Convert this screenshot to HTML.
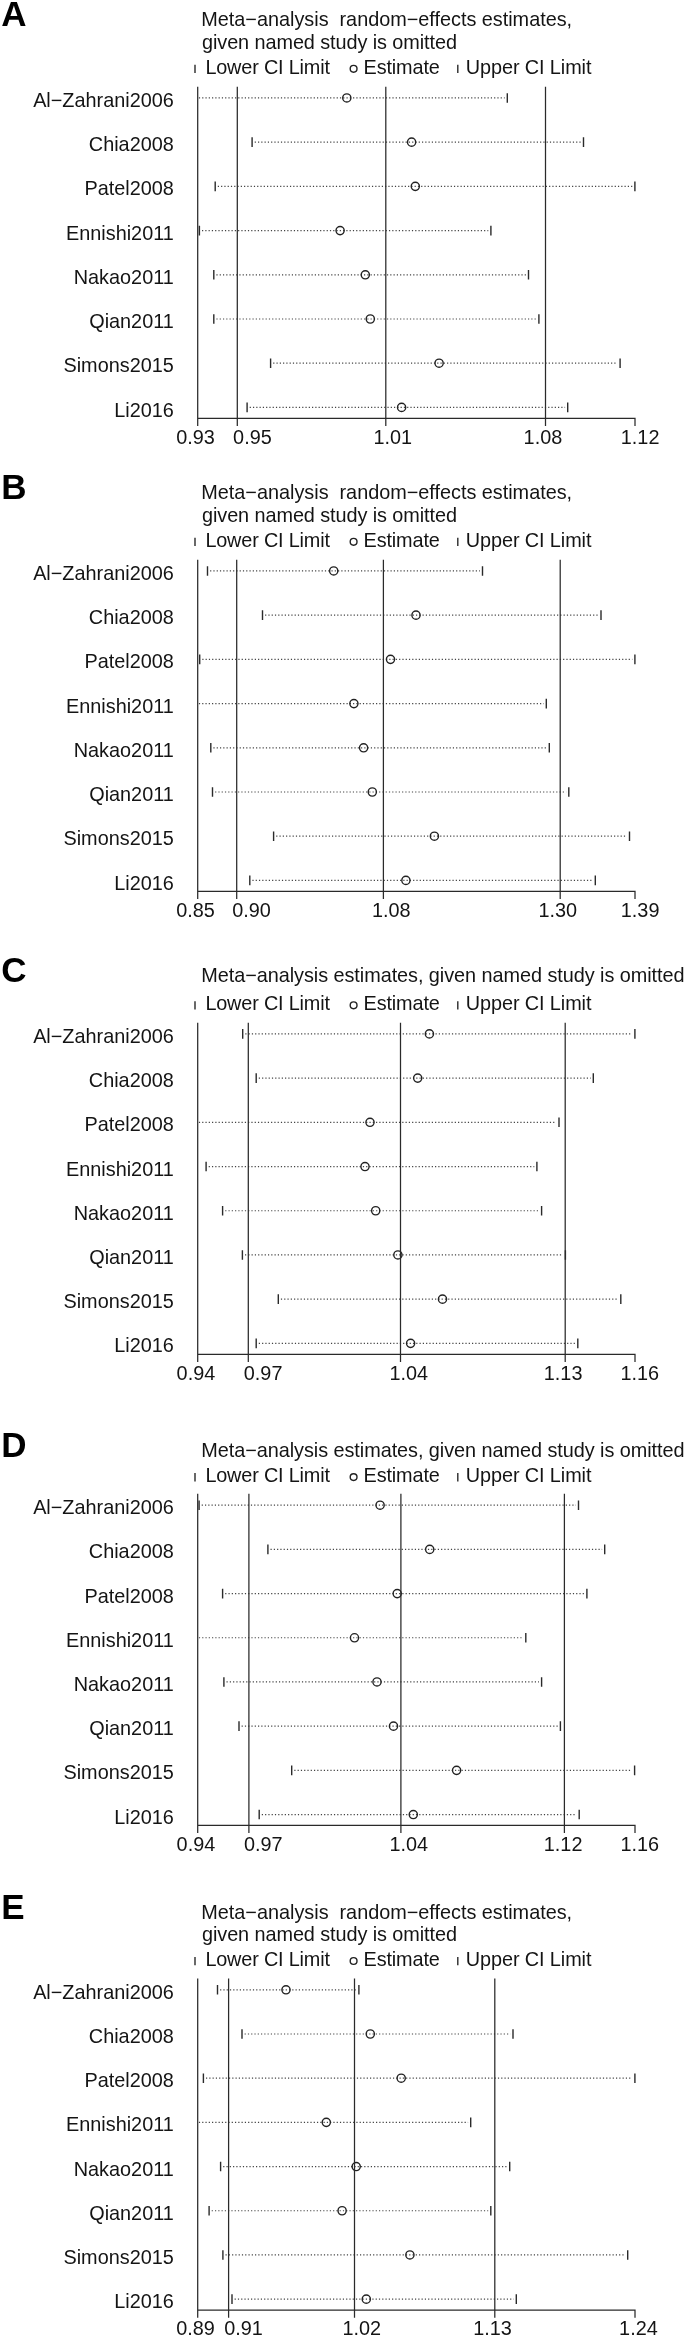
<!DOCTYPE html>
<html><head><meta charset="utf-8"><title>Sensitivity analysis</title>
<style>
html,body{margin:0;padding:0;background:#fff;}
svg{display:block;filter:grayscale(1);}
text{font-family:"Liberation Sans",sans-serif;font-size:19.85px;fill:#141414;}
.b{font-weight:bold;font-size:35px;fill:#000;}
.l{stroke:#2a2a2a;stroke-width:1.25;fill:none;}
.c{stroke:#2a2a2a;stroke-width:1.4;fill:none;}
.d{stroke:#444;stroke-width:1.2;stroke-dasharray:1.2 2.08;fill:none;}
.e{stroke:#222;stroke-width:1.4;fill:none;}
</style></head>
<body>
<svg width="685" height="2337" viewBox="0 0 685 2337">
<rect width="685" height="2337" fill="#fff"/>
<!-- panel A -->
<g>
<text class="b" x="1.2" y="26.3">A</text>
<text x="201.3" y="26.3" textLength="370.8" lengthAdjust="spacing">Meta−analysis  random−effects estimates,</text>
<text x="202" y="49.1" textLength="255" lengthAdjust="spacing">given named study is omitted</text>
<path class="c" d="M195 64.7 V73.1 M457.8 64.7 V73.1"/>
<circle class="e" cx="353.6" cy="68.8" r="3.4"/>
<text x="205.4" y="73.6" textLength="124.5" lengthAdjust="spacing">Lower CI Limit</text>
<text x="363.6" y="73.6" textLength="76.2" lengthAdjust="spacing">Estimate</text>
<text x="465.8" y="73.6" textLength="125.6" lengthAdjust="spacing">Upper CI Limit</text>
<path class="d" d="M198.9 97.95 H504.7"/>
<path class="c" d="M507.3 93.15 V102.75"/>
<circle class="e" cx="346.8" cy="97.95" r="4.1"/>
<text x="173.8" y="107.05" text-anchor="end">Al−Zahrani2006</text>
<path class="d" d="M254.7 142.16 H580.9"/>
<path class="c" d="M252.1 137.36 V146.96 M583.5 137.36 V146.96"/>
<circle class="e" cx="411.6" cy="142.16" r="4.1"/>
<text x="173.8" y="151.26" text-anchor="end">Chia2008</text>
<path class="d" d="M217.8 186.37 H632.3"/>
<path class="c" d="M215.2 181.57 V191.17 M634.9 181.57 V191.17"/>
<circle class="e" cx="415.3" cy="186.37" r="4.1"/>
<text x="173.8" y="195.47" text-anchor="end">Patel2008</text>
<path class="d" d="M202 230.58 H488.3"/>
<path class="c" d="M199.4 225.78 V235.38 M490.9 225.78 V235.38"/>
<circle class="e" cx="340.1" cy="230.58" r="4.1"/>
<text x="173.8" y="239.68" text-anchor="end">Ennishi2011</text>
<path class="d" d="M216.4 274.79 H525.9"/>
<path class="c" d="M213.8 269.99 V279.59 M528.5 269.99 V279.59"/>
<circle class="e" cx="365.3" cy="274.79" r="4.1"/>
<text x="173.8" y="283.89" text-anchor="end">Nakao2011</text>
<path class="d" d="M216.4 319 H536.3"/>
<path class="c" d="M213.8 314.2 V323.8 M538.9 314.2 V323.8"/>
<circle class="e" cx="370.3" cy="319" r="4.1"/>
<text x="173.8" y="328.1" text-anchor="end">Qian2011</text>
<path class="d" d="M273.2 363.21 H617.5"/>
<path class="c" d="M270.6 358.41 V368.01 M620.1 358.41 V368.01"/>
<circle class="e" cx="439.1" cy="363.21" r="4.1"/>
<text x="173.8" y="372.31" text-anchor="end">Simons2015</text>
<path class="d" d="M249.7 407.42 H565.1"/>
<path class="c" d="M247.1 402.62 V412.22 M567.7 402.62 V412.22"/>
<circle class="e" cx="401.6" cy="407.42" r="4.1"/>
<text x="173.8" y="416.52" text-anchor="end">Li2016</text>
<path class="l" d="M197.7 86.7 V425.9 M237.3 86.7 V425.9 M385.8 86.7 V425.9 M545.5 86.7 V425.9 M197.1 418.3 H635 M635 417.7 V425.9"/>
<text x="176.2" y="443.5">0.93</text>
<text x="233.1" y="443.5">0.95</text>
<text x="373.4" y="443.5">1.01</text>
<text x="523.6" y="443.5">1.08</text>
<text x="620.8" y="443.5">1.12</text>
</g>
<!-- panel B -->
<g>
<text class="b" x="1.2" y="499.3">B</text>
<text x="201.3" y="499.3" textLength="370.8" lengthAdjust="spacing">Meta−analysis  random−effects estimates,</text>
<text x="202" y="522.1" textLength="255" lengthAdjust="spacing">given named study is omitted</text>
<path class="c" d="M195 537.7 V546.1 M457.8 537.7 V546.1"/>
<circle class="e" cx="353.6" cy="541.8" r="3.4"/>
<text x="205.4" y="546.6" textLength="124.5" lengthAdjust="spacing">Lower CI Limit</text>
<text x="363.6" y="546.6" textLength="76.2" lengthAdjust="spacing">Estimate</text>
<text x="465.8" y="546.6" textLength="125.6" lengthAdjust="spacing">Upper CI Limit</text>
<path class="d" d="M210.1 570.95 H479.9"/>
<path class="c" d="M207.5 566.15 V575.75 M482.5 566.15 V575.75"/>
<circle class="e" cx="333.7" cy="570.95" r="4.1"/>
<text x="173.8" y="580.05" text-anchor="end">Al−Zahrani2006</text>
<path class="d" d="M265.1 615.16 H598.4"/>
<path class="c" d="M262.5 610.36 V619.96 M601 610.36 V619.96"/>
<circle class="e" cx="416" cy="615.16" r="4.1"/>
<text x="173.8" y="624.26" text-anchor="end">Chia2008</text>
<path class="d" d="M202.3 659.37 H632.3"/>
<path class="c" d="M199.7 654.57 V664.17 M634.9 654.57 V664.17"/>
<circle class="e" cx="390.5" cy="659.37" r="4.1"/>
<text x="173.8" y="668.47" text-anchor="end">Patel2008</text>
<path class="d" d="M198.9 703.58 H543.7"/>
<path class="c" d="M546.3 698.78 V708.38"/>
<circle class="e" cx="353.9" cy="703.58" r="4.1"/>
<text x="173.8" y="712.68" text-anchor="end">Ennishi2011</text>
<path class="d" d="M213.4 747.79 H546.7"/>
<path class="c" d="M210.8 742.99 V752.59 M549.3 742.99 V752.59"/>
<circle class="e" cx="363.6" cy="747.79" r="4.1"/>
<text x="173.8" y="756.89" text-anchor="end">Nakao2011</text>
<path class="d" d="M215.1 792 H566.2"/>
<path class="c" d="M212.5 787.2 V796.8 M568.8 787.2 V796.8"/>
<circle class="e" cx="372.3" cy="792" r="4.1"/>
<text x="173.8" y="801.1" text-anchor="end">Qian2011</text>
<path class="d" d="M276.2 836.21 H626.9"/>
<path class="c" d="M273.6 831.41 V841.01 M629.5 831.41 V841.01"/>
<circle class="e" cx="434.4" cy="836.21" r="4.1"/>
<text x="173.8" y="845.31" text-anchor="end">Simons2015</text>
<path class="d" d="M252.4 880.42 H592.7"/>
<path class="c" d="M249.8 875.62 V885.22 M595.3 875.62 V885.22"/>
<circle class="e" cx="405.9" cy="880.42" r="4.1"/>
<text x="173.8" y="889.52" text-anchor="end">Li2016</text>
<path class="l" d="M197.7 559.7 V898.9 M236.7 559.7 V898.9 M383.4 559.7 V898.9 M560.2 559.7 V898.9 M197.1 891.3 H635 M635 890.7 V898.9"/>
<text x="176.2" y="916.5">0.85</text>
<text x="232.2" y="916.5">0.90</text>
<text x="371.9" y="916.5">1.08</text>
<text x="538.5" y="916.5">1.30</text>
<text x="620.8" y="916.5">1.39</text>
</g>
<!-- panel C -->
<g>
<text class="b" x="1.2" y="982">C</text>
<text x="201.3" y="982.4" textLength="483.2" lengthAdjust="spacing">Meta−analysis estimates, given named study is omitted</text>
<path class="c" d="M195 1001.2 V1009.6 M457.8 1001.2 V1009.6"/>
<circle class="e" cx="353.6" cy="1005.3" r="3.4"/>
<text x="205.4" y="1010.1" textLength="124.5" lengthAdjust="spacing">Lower CI Limit</text>
<text x="363.6" y="1010.1" textLength="76.2" lengthAdjust="spacing">Estimate</text>
<text x="465.8" y="1010.1" textLength="125.6" lengthAdjust="spacing">Upper CI Limit</text>
<path class="d" d="M245.3 1033.9 H632.3"/>
<path class="c" d="M242.7 1029.1 V1038.7 M634.9 1029.1 V1038.7"/>
<circle class="e" cx="429.4" cy="1033.9" r="4.1"/>
<text x="173.8" y="1043" text-anchor="end">Al−Zahrani2006</text>
<path class="d" d="M258.8 1078.11 H590.7"/>
<path class="c" d="M256.2 1073.31 V1082.91 M593.3 1073.31 V1082.91"/>
<circle class="e" cx="417.7" cy="1078.11" r="4.1"/>
<text x="173.8" y="1087.21" text-anchor="end">Chia2008</text>
<path class="d" d="M198.9 1122.32 H556.4"/>
<path class="c" d="M559 1117.52 V1127.12"/>
<circle class="e" cx="370" cy="1122.32" r="4.1"/>
<text x="173.8" y="1131.42" text-anchor="end">Patel2008</text>
<path class="d" d="M208.7 1166.53 H534.3"/>
<path class="c" d="M206.1 1161.73 V1171.33 M536.9 1161.73 V1171.33"/>
<circle class="e" cx="365" cy="1166.53" r="4.1"/>
<text x="173.8" y="1175.63" text-anchor="end">Ennishi2011</text>
<path class="d" d="M225.2 1210.74 H539"/>
<path class="c" d="M222.6 1205.94 V1215.54 M541.6 1205.94 V1215.54"/>
<circle class="e" cx="375.7" cy="1210.74" r="4.1"/>
<text x="173.8" y="1219.84" text-anchor="end">Nakao2011</text>
<path class="d" d="M245 1254.95 H562.8"/>
<path class="c" d="M242.4 1250.15 V1259.75 M565.4 1250.15 V1259.75"/>
<circle class="e" cx="397.9" cy="1254.95" r="4.1"/>
<text x="173.8" y="1264.05" text-anchor="end">Qian2011</text>
<path class="d" d="M280.9 1299.16 H618.2"/>
<path class="c" d="M278.3 1294.36 V1303.96 M620.8 1294.36 V1303.96"/>
<circle class="e" cx="442.5" cy="1299.16" r="4.1"/>
<text x="173.8" y="1308.26" text-anchor="end">Simons2015</text>
<path class="d" d="M258.8 1343.37 H575.2"/>
<path class="c" d="M256.2 1338.57 V1348.17 M577.8 1338.57 V1348.17"/>
<circle class="e" cx="410.6" cy="1343.37" r="4.1"/>
<text x="173.8" y="1352.47" text-anchor="end">Li2016</text>
<path class="l" d="M197.7 1022.7 V1361.9 M248.3 1022.7 V1361.9 M400.5 1022.7 V1361.9 M565.2 1022.7 V1361.9 M197.1 1354.3 H635 M635 1353.7 V1361.9"/>
<text x="176.6" y="1380">0.94</text>
<text x="243.8" y="1380">0.97</text>
<text x="389.4" y="1380">1.04</text>
<text x="543.8" y="1380">1.13</text>
<text x="620.4" y="1380">1.16</text>
</g>
<!-- panel D -->
<g>
<text class="b" x="1.2" y="1456.6">D</text>
<text x="201.3" y="1457.1" textLength="483.2" lengthAdjust="spacing">Meta−analysis estimates, given named study is omitted</text>
<path class="c" d="M195 1473 V1481.4 M457.8 1473 V1481.4"/>
<circle class="e" cx="353.6" cy="1477.1" r="3.4"/>
<text x="205.4" y="1481.9" textLength="124.5" lengthAdjust="spacing">Lower CI Limit</text>
<text x="363.6" y="1481.9" textLength="76.2" lengthAdjust="spacing">Estimate</text>
<text x="465.8" y="1481.9" textLength="125.6" lengthAdjust="spacing">Upper CI Limit</text>
<path class="d" d="M201.7 1505.2 H575.9"/>
<path class="c" d="M199.1 1500.4 V1510 M578.5 1500.4 V1510"/>
<circle class="e" cx="380.1" cy="1505.2" r="4.1"/>
<text x="173.8" y="1514.3" text-anchor="end">Al−Zahrani2006</text>
<path class="d" d="M270.5 1549.39 H602.1"/>
<path class="c" d="M267.9 1544.59 V1554.19 M604.7 1544.59 V1554.19"/>
<circle class="e" cx="429.7" cy="1549.39" r="4.1"/>
<text x="173.8" y="1558.49" text-anchor="end">Chia2008</text>
<path class="d" d="M225.2 1593.58 H584.3"/>
<path class="c" d="M222.6 1588.78 V1598.38 M586.9 1588.78 V1598.38"/>
<circle class="e" cx="397.2" cy="1593.58" r="4.1"/>
<text x="173.8" y="1602.68" text-anchor="end">Patel2008</text>
<path class="d" d="M198.9 1637.77 H523.2"/>
<path class="c" d="M525.8 1632.97 V1642.57"/>
<circle class="e" cx="354.5" cy="1637.77" r="4.1"/>
<text x="173.8" y="1646.87" text-anchor="end">Ennishi2011</text>
<path class="d" d="M226.5 1681.96 H539"/>
<path class="c" d="M223.9 1677.16 V1686.76 M541.6 1677.16 V1686.76"/>
<circle class="e" cx="377" cy="1681.96" r="4.1"/>
<text x="173.8" y="1691.06" text-anchor="end">Nakao2011</text>
<path class="d" d="M241.6 1726.15 H557.8"/>
<path class="c" d="M239 1721.35 V1730.95 M560.4 1721.35 V1730.95"/>
<circle class="e" cx="393.5" cy="1726.15" r="4.1"/>
<text x="173.8" y="1735.25" text-anchor="end">Qian2011</text>
<path class="d" d="M294.3 1770.34 H632"/>
<path class="c" d="M291.7 1765.54 V1775.14 M634.6 1765.54 V1775.14"/>
<circle class="e" cx="456.6" cy="1770.34" r="4.1"/>
<text x="173.8" y="1779.44" text-anchor="end">Simons2015</text>
<path class="d" d="M261.8 1814.53 H576.6"/>
<path class="c" d="M259.2 1809.73 V1819.33 M579.2 1809.73 V1819.33"/>
<circle class="e" cx="413.3" cy="1814.53" r="4.1"/>
<text x="173.8" y="1823.63" text-anchor="end">Li2016</text>
<path class="l" d="M197.7 1493.8 V1833 M248.9 1493.8 V1833 M400.9 1493.8 V1833 M564.4 1493.8 V1833 M197.1 1825.4 H635 M635 1824.8 V1833"/>
<text x="176.6" y="1850.7">0.94</text>
<text x="243.9" y="1850.7">0.97</text>
<text x="389.4" y="1850.7">1.04</text>
<text x="543.8" y="1850.7">1.12</text>
<text x="620.4" y="1850.7">1.16</text>
</g>
<!-- panel E -->
<g>
<text class="b" x="1.2" y="1918.5">E</text>
<text x="201.3" y="1918.5" textLength="370.8" lengthAdjust="spacing">Meta−analysis  random−effects estimates,</text>
<text x="202" y="1941.3" textLength="255" lengthAdjust="spacing">given named study is omitted</text>
<path class="c" d="M195 1956.9 V1965.3 M457.8 1956.9 V1965.3"/>
<circle class="e" cx="353.6" cy="1961" r="3.4"/>
<text x="205.4" y="1965.8" textLength="124.5" lengthAdjust="spacing">Lower CI Limit</text>
<text x="363.6" y="1965.8" textLength="76.2" lengthAdjust="spacing">Estimate</text>
<text x="465.8" y="1965.8" textLength="125.6" lengthAdjust="spacing">Upper CI Limit</text>
<path class="d" d="M220.1 1989.8 H356.3"/>
<path class="c" d="M217.5 1985 V1994.6 M358.9 1985 V1994.6"/>
<circle class="e" cx="286" cy="1989.8" r="4.1"/>
<text x="173.8" y="1998.9" text-anchor="end">Al−Zahrani2006</text>
<path class="d" d="M244.6 2033.99 H510.4"/>
<path class="c" d="M242 2029.19 V2038.79 M513 2029.19 V2038.79"/>
<circle class="e" cx="370.3" cy="2033.99" r="4.1"/>
<text x="173.8" y="2043.09" text-anchor="end">Chia2008</text>
<path class="d" d="M206 2078.18 H632.3"/>
<path class="c" d="M203.4 2073.38 V2082.98 M634.9 2073.38 V2082.98"/>
<circle class="e" cx="401.2" cy="2078.18" r="4.1"/>
<text x="173.8" y="2087.28" text-anchor="end">Patel2008</text>
<path class="d" d="M198.9 2122.37 H468.1"/>
<path class="c" d="M470.7 2117.57 V2127.17"/>
<circle class="e" cx="326.3" cy="2122.37" r="4.1"/>
<text x="173.8" y="2131.47" text-anchor="end">Ennishi2011</text>
<path class="d" d="M223.2 2166.56 H507.1"/>
<path class="c" d="M220.6 2161.76 V2171.36 M509.7 2161.76 V2171.36"/>
<circle class="e" cx="356.2" cy="2166.56" r="4.1"/>
<text x="173.8" y="2175.66" text-anchor="end">Nakao2011</text>
<path class="d" d="M211.7 2210.75 H488.2"/>
<path class="c" d="M209.1 2205.95 V2215.55 M490.8 2205.95 V2215.55"/>
<circle class="e" cx="342.1" cy="2210.75" r="4.1"/>
<text x="173.8" y="2219.85" text-anchor="end">Qian2011</text>
<path class="d" d="M225.5 2254.94 H625.1"/>
<path class="c" d="M222.9 2250.14 V2259.74 M627.7 2250.14 V2259.74"/>
<circle class="e" cx="409.9" cy="2254.94" r="4.1"/>
<text x="173.8" y="2264.04" text-anchor="end">Simons2015</text>
<path class="d" d="M234.6 2299.13 H513.7"/>
<path class="c" d="M232 2294.33 V2303.93 M516.3 2294.33 V2303.93"/>
<circle class="e" cx="366.3" cy="2299.13" r="4.1"/>
<text x="173.8" y="2308.23" text-anchor="end">Li2016</text>
<path class="l" d="M197.7 1978.6 V2317.8 M228.6 1978.6 V2317.8 M354.5 1978.6 V2317.8 M494.8 1978.6 V2317.8 M197.1 2310.2 H635 M635 2309.6 V2317.8"/>
<text x="176.2" y="2335.3">0.89</text>
<text x="224.2" y="2335.3">0.91</text>
<text x="342.4" y="2335.3">1.02</text>
<text x="473.2" y="2335.3">1.13</text>
<text x="619.1" y="2335.3">1.24</text>
</g>
</svg>
</body></html>
